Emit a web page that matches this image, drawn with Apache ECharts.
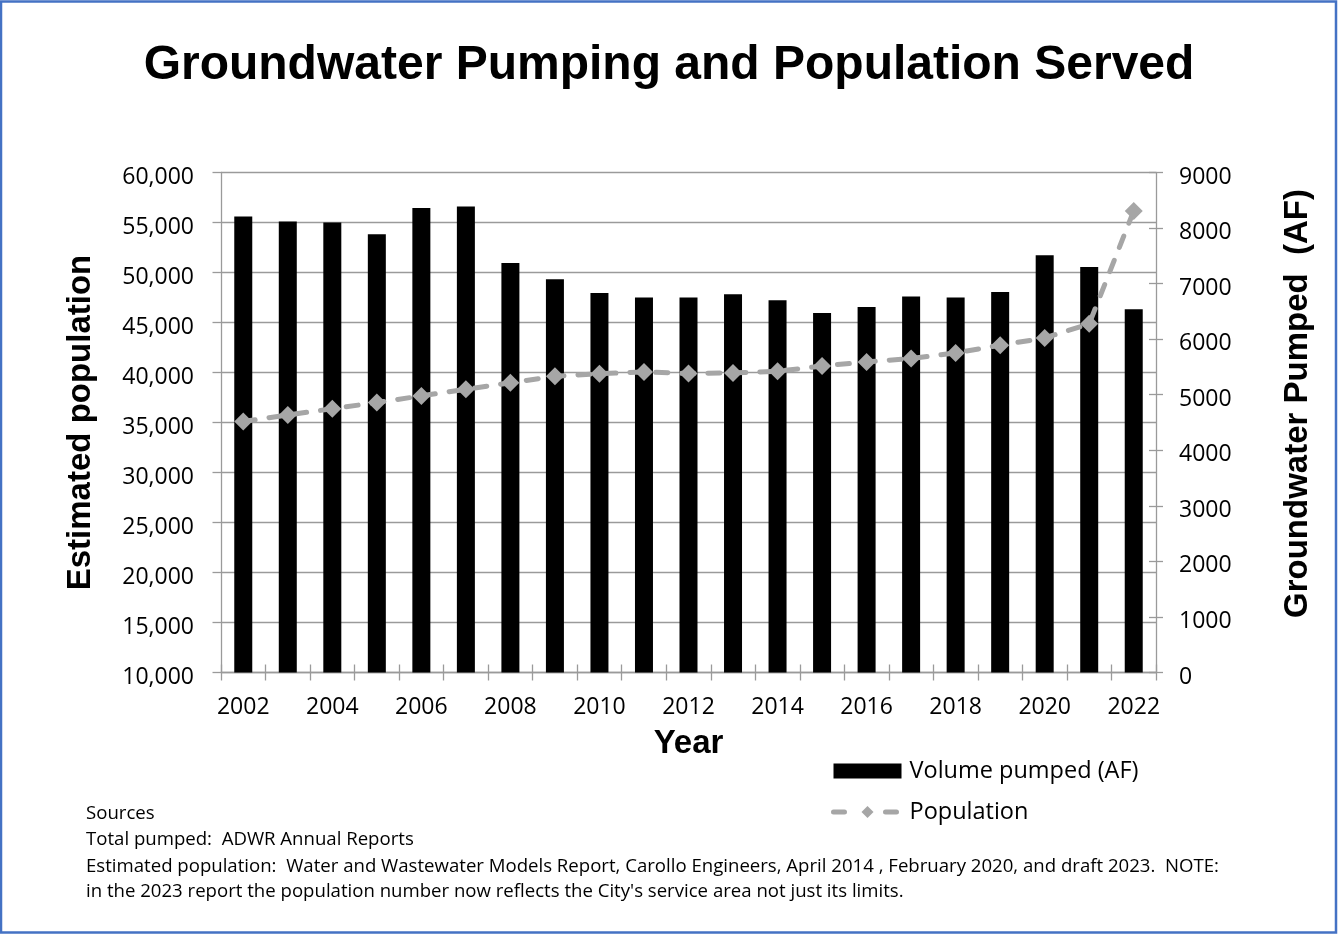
<!DOCTYPE html>
<html>
<head>
<meta charset="utf-8">
<script src="https://cdn.jsdelivr.net/npm/echarts@6/dist/echarts.min.js"></script>
<style>
html,body{margin:0;padding:0;background:#fff;}
#chart{width:1338px;height:934px;}
</style>
</head>
<body>
<div id="chart"></div>
<script>
// ---- data ----
const years = ['2002','2003','2004','2005','2006','2007','2008','2009','2010','2011','2012',
               '2013','2014','2015','2016','2017','2018','2019','2020','2021','2022'];
const volumePumped = [8210, 8120, 8100, 7890, 8360, 8390, 7370, 7080, 6830, 6750, 6750,
                      6810, 6700, 6470, 6580, 6770, 6750, 6850, 7510, 7300, 6540];
const population = [35100, 35750, 36380, 37000, 37660, 38330, 38970, 39630, 39880, 40060, 39900,
                    39960, 40120, 40650, 41060, 41400, 41960, 42730, 43450, 44870, 56160];
const popTicks = {min: 10000, max: 60000, interval: 5000};
const afTicks = {min: 0, max: 9000, interval: 1000};
const sourceLines = [
  'Sources',
  'Total pumped:  ADWR Annual Reports',
  "Estimated population:  Water and Wastewater Models Report, Carollo Engineers, April 2014 , February 2020, and draft 2023.  NOTE:",
  "in the 2023 report the population number now reflects the City's service area not just its limits."
];

const GRAY = '#9a9a9a';
const BODY = 'Open Sans';
const HEAD = 'Liberation Sans';
const chart = echarts.init(document.getElementById('chart'));

const footer = sourceLines.map((t, i) => ({
  type: 'text',
  style: {text: t, x: 86, y: [814, 840, 866.5, 892][i], fill: '#000',
          font: '18.6px "' + BODY + '"', verticalAlign: 'middle', align: 'left'}
}));

const option = {
  animation: false,
  backgroundColor: '#fff',
  title: {
    text: 'Groundwater Pumping and Population Served',
    left: 'center', top: 37,
    textStyle: {fontFamily: HEAD, fontSize: 48, fontWeight: 'bold', color: '#000'}
  },
  grid: {left: 221, right: 182, top: 172.5, bottom: 261.5},
  legend: {
    orient: 'vertical', left: 831, top: 759, padding: 0,
    itemWidth: 68, itemHeight: 15, itemGap: 17,
    lineStyle: {width: 5, cap: 'round', type: [11, 41]},
    textStyle: {fontFamily: BODY, fontSize: 23.5, color: '#000', padding: [0, 0, 0, 3]},
    data: [{name: 'Volume pumped (AF)', icon: 'rect'}, {name: 'Population'}]
  },
  xAxis: [{
    type: 'category', data: years, boundaryGap: true, position: 'bottom',
    axisLine: {lineStyle: {color: GRAY, width: 1.3}},
    axisTick: {show: true, interval: 0, length: 8, lineStyle: {color: GRAY, width: 1.3}},
    axisLabel: {interval: 1, fontFamily: BODY, fontSize: 23, color: '#000', margin: 23.5},
    splitLine: {show: false},
    name: 'Year', nameLocation: 'middle', nameGap: 55,
    nameTextStyle: {fontFamily: HEAD, fontSize: 33, fontWeight: 'bold', color: '#000'}
  }, {
    type: 'category', data: years, boundaryGap: true, position: 'bottom',
    axisLine: {show: false},
    axisTick: {show: true, inside: true, interval: 0, length: 8, lineStyle: {color: GRAY, width: 1.3}},
    axisLabel: {show: false}, splitLine: {show: false}
  }],
  yAxis: [{
    type: 'value', position: 'left',
    min: popTicks.min, max: popTicks.max, interval: popTicks.interval,
    axisLine: {show: true, lineStyle: {color: GRAY, width: 1.3}},
    axisTick: {show: true, length: 8.5, lineStyle: {color: GRAY, width: 1.3}},
    axisLabel: {fontFamily: BODY, fontSize: 23, color: '#000', margin: 27,
                verticalAlign: 'top', lineHeight: 9},
    splitLine: {show: true, lineStyle: {color: GRAY, width: 1.3}},
    name: 'Estimated population', nameLocation: 'middle', nameRotate: 90, nameGap: 124,
    nameTextStyle: {fontFamily: HEAD, fontSize: 33, fontWeight: 'bold', color: '#000'}
  }, {
    type: 'value', position: 'right',
    min: afTicks.min, max: afTicks.max, interval: afTicks.interval,
    axisLine: {show: true, lineStyle: {color: GRAY, width: 1.3}},
    axisTick: {show: true, length: 7, lineStyle: {color: GRAY, width: 1.3}},
    axisLabel: {fontFamily: BODY, fontSize: 23, color: '#000', margin: 23,
                verticalAlign: 'top', lineHeight: 9, formatter: v => String(v)},
    splitLine: {show: false},
    name: 'Groundwater Pumped  (AF)', nameLocation: 'middle', nameRotate: 90, nameGap: 125,
    nameTextStyle: {fontFamily: HEAD, fontSize: 33, fontWeight: 'bold', color: '#000',
                    padding: [0, 0, 0, 38]}
  }, {
    type: 'value', position: 'right',
    min: afTicks.min, max: afTicks.max, interval: afTicks.interval,
    axisLine: {show: false},
    axisTick: {show: true, inside: true, length: 7, lineStyle: {color: GRAY, width: 1.3}},
    axisLabel: {show: false}, splitLine: {show: false}
  }],
  series: [{
    name: 'Volume pumped (AF)', type: 'bar', xAxisIndex: 0, yAxisIndex: 1,
    data: volumePumped, barWidth: 18, itemStyle: {color: '#000'}
  }, {
    name: 'Population', type: 'line', xAxisIndex: 0, yAxisIndex: 0,
    data: population, symbol: 'diamond', symbolSize: 18,
    lineStyle: {color: '#a6a6a6', width: 5, type: [12, 14], cap: 'round'},
    itemStyle: {color: '#a6a6a6'}
  }],
  graphic: [{
    type: 'rect', silent: true, z: 100,
    shape: {x: 1, y: 1.5, width: 1335, height: 931},
    style: {fill: 'none', stroke: '#4472C4', lineWidth: 2.5}
  }].concat(footer)
};
chart.setOption(option);
</script>
</body>
</html>
